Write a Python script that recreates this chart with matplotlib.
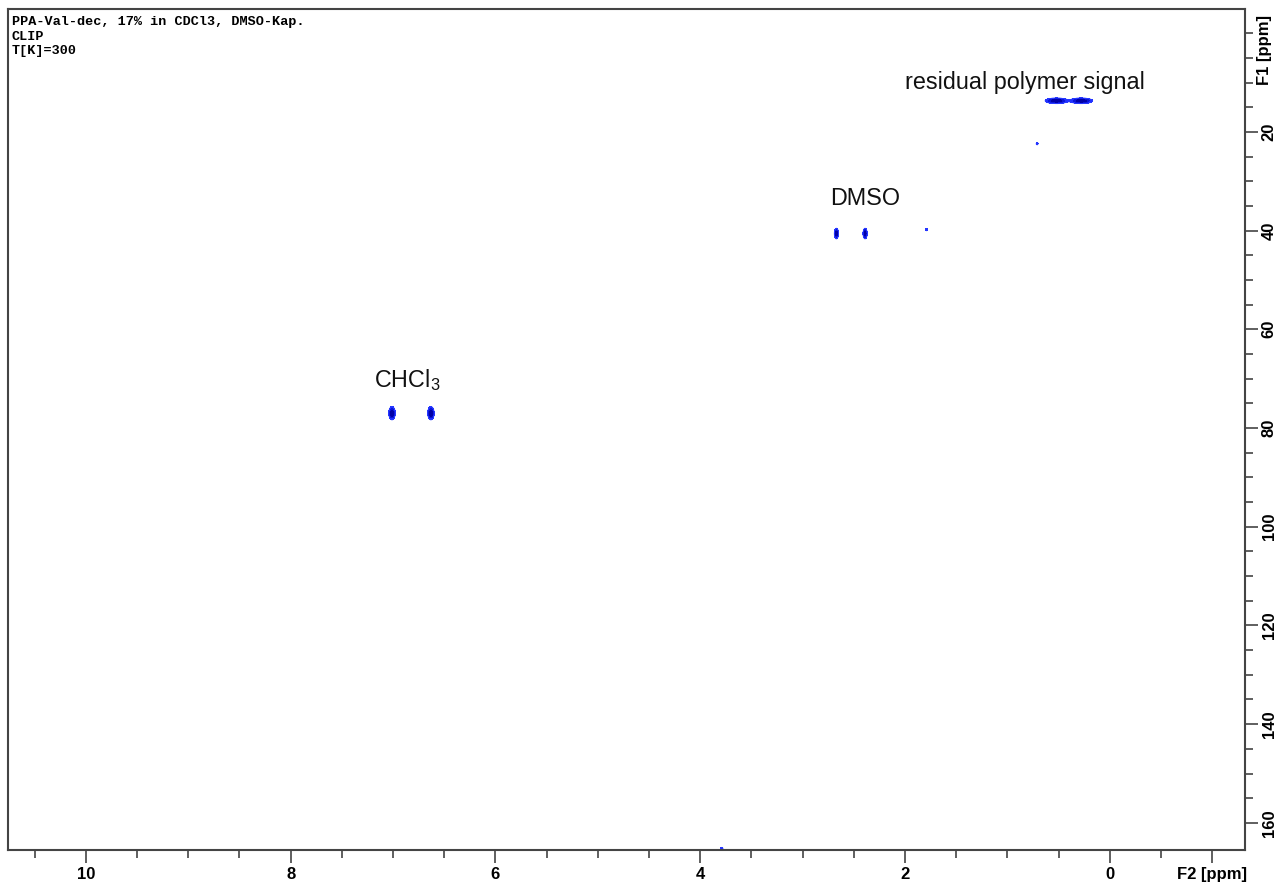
import numpy as np
import matplotlib
matplotlib.use("Agg")
import matplotlib.pyplot as plt
from matplotlib.ticker import MultipleLocator, FixedLocator

# cross peaks: F2 (1H) ppm, F1 (13C) ppm, half widths, relative height
peak_f2 = [0.52, 0.28, 2.67, 2.39, 7.01, 6.63, 0.71, 1.79, 3.79]
peak_f1 = [13.7, 13.7, 40.6, 40.6, 77.0, 77.0, 22.4, 39.8, 165.2]
peak_w2 = [0.050, 0.050, 0.009, 0.009, 0.014, 0.014, 0.006, 0.006, 0.008]
peak_w1 = [0.25, 0.25, 0.48, 0.48, 0.60, 0.60, 0.15, 0.15, 0.15]
peak_amp = [1.0, 1.0, 1.0, 1.0, 1.0, 1.0, 0.25, 0.25, 0.25]

header = ["PPA-Val-dec, 17% in CDCl3, DMSO-Kap.", "CLIP", "T[K]=300"]
labels = ["residual polymer signal", "DMSO", "CHCl$_3$"]
label_f2 = [0.83, 2.39, 6.86]
label_f1 = [10.0, 33.4, 70.3]

x_labels = [10, 8, 6, 4, 2, 0]
y_labels = [20, 40, 60, 80, 100, 120, 140, 160]

plt.rcParams["mathtext.fontset"] = "custom"
plt.rcParams["mathtext.rm"] = "Liberation Sans"
plt.rcParams["mathtext.it"] = "Liberation Sans"
tick_family = ["Liberation Sans Narrow", "Liberation Sans"]

f2 = np.linspace(-1.35, 10.8, 2400)
f1 = np.linspace(-5, 166, 1400)
X, Y = np.meshgrid(f2, f1)
Z = np.zeros_like(X)
for x0, y0, wx, wy, a in zip(peak_f2, peak_f1, peak_w2, peak_w1, peak_amp):
    Z += a * np.exp(-0.5 * ((X - x0) / wx) ** 2 - 0.5 * ((Y - y0) / wy) ** 2)

fig = plt.figure(figsize=(12.76, 8.83), dpi=100)
ax = fig.add_axes([8 / 1276, 1 - 850 / 883, 1237 / 1276, 841 / 883])

ax.contourf(X, Y, Z, levels=[0.08, 0.3, 0.6, 10], colors=["#1f2fff", "#0a14d8", "#0000a8"])
ax.contour(X, Y, Z, levels=[0.08], colors=["#2a3cff"], linewidths=0.6)

ax.set_xlim(10.76, -1.32)
ax.set_ylim(165.5, -4.9)

ax.xaxis.set_major_locator(FixedLocator(x_labels + [-1]))
ax.set_xticklabels([str(v) for v in x_labels] + ["F2 [ppm]"])
ax.xaxis.set_minor_locator(MultipleLocator(0.5))

ax.yaxis.tick_right()
ax.yaxis.set_major_locator(FixedLocator(y_labels))
ax.set_yticklabels([str(v) for v in y_labels], rotation=90, va="center")
ax.yaxis.set_minor_locator(FixedLocator(np.arange(0, 161, 5)))

ax.tick_params(which="major", direction="out", length=9, width=1.2, color="#444444",
               labelsize=12, pad=3)
ax.tick_params(which="minor", direction="out", length=6, width=1.2, color="#444444")
for lab in ax.get_xticklabels() + ax.get_yticklabels():
    lab.set_fontweight("bold")
    lab.set_fontfamily(tick_family)
for s in ax.spines.values():
    s.set_color("#444444")
    s.set_linewidth(1.5)

ax.text(1.0 + 20 / 1237, 3.5, "F1 [ppm]", transform=ax.get_yaxis_transform(),
        rotation=90, ha="center", va="center", fontsize=12, fontweight="bold",
        family=tick_family)

for i, line in enumerate(header):
    ax.text(4 / 1237, 1 - (7 + 14.5 * i) / 841, line, transform=ax.transAxes,
            ha="left", va="top", family="Liberation Mono", fontweight="bold",
            fontsize=9.7)

for txt, x, y in zip(labels, label_f2, label_f1):
    ax.text(x, y, txt, ha="center", va="center", fontsize=16.8,
            family="Liberation Sans", color="#111111")

fig.savefig("out.png", dpi=100)
